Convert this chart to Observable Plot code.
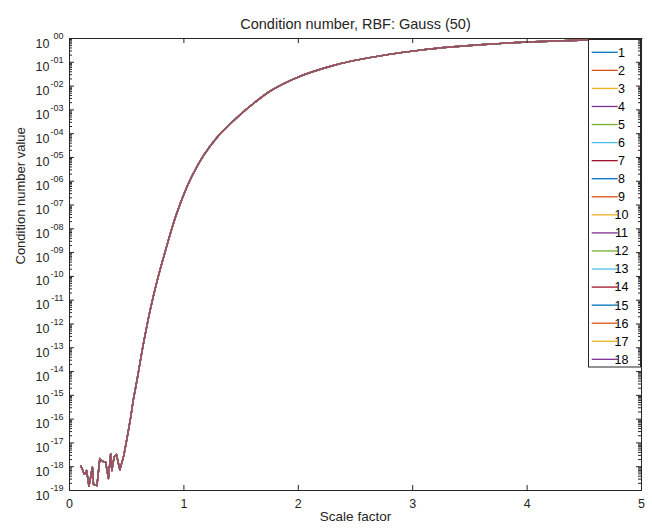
<!DOCTYPE html>
<html><head><meta charset="utf-8">
<script src="https://cdn.jsdelivr.net/npm/d3@7"></script>
<script src="https://cdn.jsdelivr.net/npm/@observablehq/plot@0.6"></script>
<style>
body{margin:0;background:#fff}
#chart{position:relative;width:652px;height:529px}
#chart svg{font-family:"Liberation Sans",Arial,sans-serif}
</style>
</head><body><div id="chart"></div>
<script>
// ---- data ----
const scaleFactor = [0.10,0.13,0.15,0.17,0.20,0.21,0.24,0.265,0.285,0.315,0.34,0.36,0.37,0.39,0.41,0.44,0.475,0.505,0.535,0.557,0.594,0.647,0.708,0.767,0.839,0.927,1.014,1.073,1.174,1.291,1.436,1.556,1.611,1.757,1.993,2.282,2.483,2.78,3.068,3.357,3.654,4.003,4.528,5.0];
const conditionValue = [1.07e-18,4.8e-19,6.9e-19,1.5e-19,9.5e-19,1.8e-19,1.6e-19,2.2e-18,1.7e-18,1.6e-18,3.2e-19,3.5e-18,6.9e-19,2.6e-18,3.3e-18,7.4e-19,3.0e-18,1.8e-17,1.2e-16,6.2e-16,5.6e-15,1.55e-13,4.4e-12,6.8e-11,1.23e-9,3.2e-8,4.2e-7,1.74e-6,1.26e-5,7.1e-5,3.55e-4,1.17e-3,1.9e-3,6.3e-3,2.34e-2,6.8e-2,0.117,0.209,0.324,0.447,0.575,0.708,0.871,0.977];
const noisyCount = 20; // points of the jagged low part (drawn linear)
const seriesNames = ["1","2","3","4","5","6","7","8","9","10","11","12","13","14","15","16","17","18"];
const seriesColors = ["#0072BD","#D95319","#EDB120","#7E2F8E","#77AC30","#4DBEEE","#A2142F",
                      "#0072BD","#D95319","#EDB120","#7E2F8E","#77AC30","#4DBEEE","#A2142F",
                      "#0072BD","#D95319","#EDB120","#7E2F8E"];
const xTicks = [0,1,2,3,4,5];
const yExponents = [0,-1,-2,-3,-4,-5,-6,-7,-8,-9,-10,-11,-12,-13,-14,-15,-16,-17,-18,-19];
const yExpLabels = ["00","-01","-02","-03","-04","-05","-06","-07","-08","-09","-10","-11","-12","-13","-14","-15","-16","-17","-18","-19"];
const titleText = "Condition number, RBF: Gauss (50)";
const xLabel = "Scale factor";
const yLabel = "Condition number value";

// ---- layout ----
const W = 652, H = 529, mL = 69, mR = 11, mT = 38, mB = 39;
const innerW = W - mL - mR, innerH = H - mT - mB;
const ink = "#262626";

const rowsFor = (lo, hi) => seriesNames.flatMap(s =>
  scaleFactor.slice(lo, hi).map((x, j) => ({series: s, x, y: conditionValue[lo + j]})));
const rowsNoisy = rowsFor(0, noisyCount);
const rowsSmooth = rowsFor(noisyCount - 1, scaleFactor.length);

const majors = yExponents.map(e => Math.pow(10, e));
const minors = [];
for (const e of yExponents) if (e < 0) for (let m = 2; m <= 9; m++) minors.push(m * Math.pow(10, e));

const plot = Plot.plot({
  width: W, height: H,
  marginLeft: mL, marginRight: mR, marginTop: mT, marginBottom: mB,
  style: {fontFamily: '"Liberation Sans", Arial, sans-serif', color: ink, background: "#fff"},
  x: {domain: [0, 5], axis: null},
  y: {type: "log", domain: [1e-19, 1], axis: null},
  color: {domain: seriesNames, range: seriesColors},
  marks: [
    Plot.line(rowsNoisy, {x: "x", y: "y", z: "series", stroke: "series", strokeWidth: 1.4, strokeOpacity: 0.7}),
    Plot.line(rowsSmooth, {x: "x", y: "y", z: "series", stroke: "series", strokeWidth: 1.4, strokeOpacity: 0.7, curve: "catmull-rom"}),
    Plot.frame({stroke: ink, strokeWidth: 1}),
    Plot.tickX(xTicks, {x: d => d, insetTop: innerH - 5, stroke: ink}),
    Plot.tickX(xTicks, {x: d => d, insetBottom: innerH - 5, stroke: ink}),
    Plot.tickY(majors, {y: d => d, insetRight: innerW - 5, stroke: ink}),
    Plot.tickY(majors, {y: d => d, insetLeft: innerW - 5, stroke: ink}),
    Plot.tickY(minors, {y: d => d, insetRight: innerW - 3, stroke: ink}),
    Plot.tickY(minors, {y: d => d, insetLeft: innerW - 3, stroke: ink}),
    Plot.text(xTicks, {x: d => d, frameAnchor: "bottom", dy: 17, text: d => String(d), fontSize: 12.5, fill: ink}),
    Plot.text(yExponents, {y: e => Math.pow(10, e), frameAnchor: "left", dx: -20, dy: 5, textAnchor: "end", text: () => "10", fontSize: 12.5, fill: ink}),
    Plot.text(yExponents, {y: e => Math.pow(10, e), frameAnchor: "left", dx: -6, dy: -2, textAnchor: "end", text: (e, i) => yExpLabels[i], fontSize: 9, fill: ink}),
    Plot.text([titleText], {frameAnchor: "top", dy: -20, fontSize: 14.5, fill: ink}),
    Plot.text([xLabel], {frameAnchor: "bottom", dy: 30, fontSize: 13.5, fill: ink}),
    Plot.text([yLabel], {frameAnchor: "left", dx: -49, rotate: -90, fontSize: 13, fill: ink})
  ]
});
document.getElementById("chart").appendChild(plot);

// ---- legend (inserted under the axis ticks) ----
const svg = d3.select(plot);
const firstTick = plot.querySelector('g[aria-label="tick"]');
const lg = svg.insert("g", () => firstTick).attr("class", "legend");
const lx = 588.5, ly = 39.5, lw = 52, lh = 327.5, row0 = 52.3, rowStep = 18.06;
lg.append("rect").attr("x", lx).attr("y", ly).attr("width", lw).attr("height", lh)
  .attr("fill", "#fff").attr("stroke", ink).attr("stroke-width", 1);
seriesNames.forEach((s, i) => {
  const yy = row0 + i * rowStep;
  lg.append("line").attr("x1", 591.7).attr("x2", 617.7).attr("y1", yy).attr("y2", yy)
    .attr("stroke", seriesColors[i]).attr("stroke-width", 1.3);
  lg.append("text").attr("x", 621.5).attr("y", yy).attr("dy", "0.35em")
    .attr("font-size", 12.5).attr("fill", "#000").text(s);
});
</script>
</body></html>
